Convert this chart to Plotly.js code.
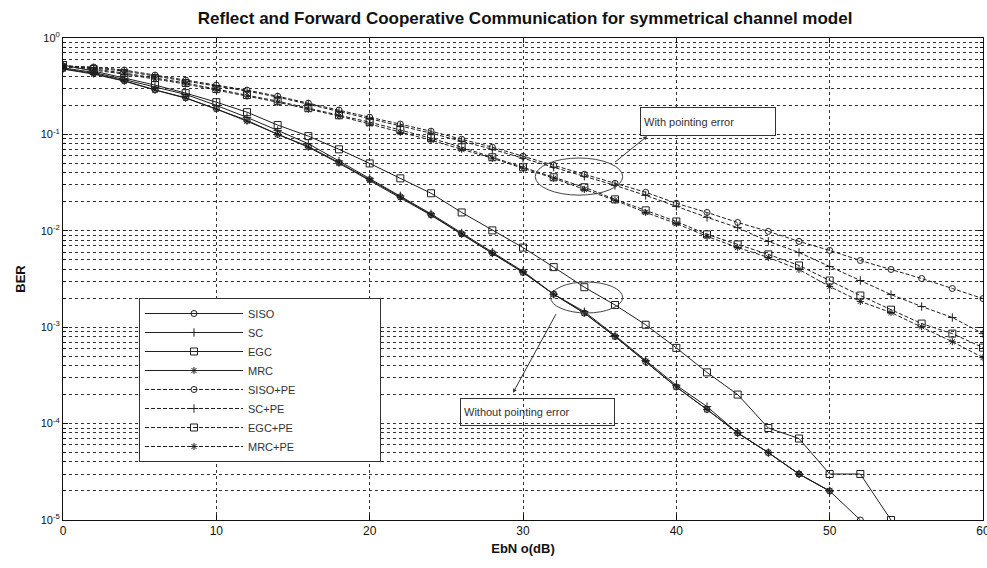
<!DOCTYPE html>
<html>
<head>
<meta charset="utf-8">
<script src="https://cdn.plot.ly/plotly-3.0.1.min.js"></script>
<style>html,body{margin:0;padding:0;background:#fff;}#chart{width:987px;height:568px;}</style>
</head>
<body>
<div id="chart"></div>
<script>
const ebno = [0,2,4,6,8,10,12,14,16,18,20,22,24,26,28,30,32,34,36,38,40,42,44,46,48,50,52,54,56,58,60];

const siso = [0.48,0.43,0.36,0.29,0.24,0.185,0.14,0.10,0.075,0.051,0.034,0.0225,0.0147,0.0093,0.0059,0.0037,0.0022,0.0014,0.0008,0.00044,0.00024,0.00014,8e-5,5e-5,3e-5,2e-5,1e-5];
const sc = [0.49,0.44,0.37,0.31,0.26,0.20,0.15,0.11,0.08,0.053,0.035,0.023,0.015,0.0095,0.006,0.0038,0.0022,0.00145,0.00082,0.00045,0.00025,0.00015,8e-5,5e-5,3e-5,2e-5];
const egc = [0.524,0.454,0.384,0.325,0.268,0.216,0.170,0.125,0.096,0.070,0.050,0.035,0.0245,0.0155,0.0101,0.0067,0.0042,0.0026,0.0017,0.00106,0.00061,0.00034,0.0002,9e-5,7e-5,3e-5,3e-5,1e-5];
const mrc = [0.476,0.422,0.357,0.288,0.238,0.183,0.137,0.100,0.0736,0.0502,0.0334,0.0222,0.0145,0.0092,0.0058,0.0037,0.0022,0.0014,0.0008,0.00044,0.00024,0.00014,8e-5,5e-5,3e-5,2e-5];

const sisoPE = [0.512,0.500,0.465,0.412,0.366,0.325,0.288,0.249,0.211,0.179,0.151,0.128,0.108,0.0891,0.0736,0.0593,0.0479,0.0386,0.0311,0.0251,0.0193,0.0155,0.0122,0.00986,0.00776,0.00626,0.00492,0.00397,0.0032,0.00252,0.00198];
const scPE = [0.512,0.488,0.454,0.403,0.357,0.317,0.281,0.244,0.206,0.174,0.147,0.122,0.103,0.0849,0.0701,0.0566,0.0456,0.0368,0.0296,0.0233,0.0179,0.0138,0.0108,0.00776,0.00596,0.00426,0.00305,0.00218,0.00164,0.00126,0.000858];
const egcPE = [0.524,0.476,0.433,0.384,0.341,0.295,0.256,0.221,0.187,0.158,0.134,0.111,0.0913,0.0736,0.0579,0.0456,0.0359,0.0283,0.0212,0.0163,0.0125,0.00918,0.00722,0.00569,0.00437,0.00305,0.00213,0.00152,0.00109,0.000858,0.000614];
const mrcPE = [0.512,0.465,0.422,0.375,0.333,0.288,0.249,0.216,0.183,0.155,0.128,0.105,0.0871,0.0701,0.0566,0.0445,0.0351,0.0269,0.0207,0.0155,0.0119,0.00875,0.00671,0.00529,0.00397,0.00264,0.00185,0.00142,0.00101,0.000708,0.000483];

const seriesNames = ['SISO','SC','EGC','MRC','SISO+PE','SC+PE','EGC+PE','MRC+PE'];
const xTicks = [0,10,20,30,40,50,60];
const yTickVals = [1,0.1,0.01,0.001,0.0001,0.00001];
const yTickText = ['10<sup>0</sup>','10<sup>-1</sup>','10<sup>-2</sup>','10<sup>-3</sup>','10<sup>-4</sup>','10<sup>-5</sup>'];

const allY = [siso, sc, egc, mrc, sisoPE, scPE, egcPE, mrcPE];
const symbols = ['circle-open','cross-thin-open','square-open','asterisk-open','circle-open','cross-thin-open','square-open','asterisk-open'];
const lineCol = '#1e1e1e';
const pad = '\u00a0'.repeat(26);

const traces = allY.map((yy, i) => ({
  x: ebno.slice(0, yy.length),
  y: yy,
  name: seriesNames[i] + pad,
  type: 'scatter',
  mode: 'lines+markers',
  line: {color: lineCol, width: 1, dash: i < 4 ? 'solid' : '4px,2px'},
  marker: {symbol: symbols[i], size: i % 4 === 2 ? 7 : 6, color: lineCol, line: {color: lineCol, width: 1}}
}));

// minor grid positions on the log axis (2..9 per decade)
const minorVals = [];
for (let e = -5; e < 0; e++) for (let k = 2; k <= 9; k++) minorVals.push(k * Math.pow(10, e));

const gridCol = '#333';
const layout = {
  width: 987, height: 568,
  paper_bgcolor: '#fff', plot_bgcolor: '#fff',
  margin: {l: 63, r: 4, t: 38, b: 48},
  font: {family: 'Liberation Sans, Arial, sans-serif', color: '#111', size: 12},
  title: {text: '<b>Reflect and Forward Cooperative Communication for symmetrical channel model</b>',
          font: {size: 17, family: 'Liberation Sans, Arial, sans-serif', color: '#111'},
          x: 0.532, xanchor: 'center', y: 0.968, yanchor: 'middle'},
  showlegend: true,
  legend: {x: 0.0826, y: 0.4606, xanchor: 'left', yanchor: 'top', bgcolor: '#fff',
           bordercolor: '#333', borderwidth: 1, font: {size: 11, color: '#333'},
           itemwidth: 98, tracegroupgap: 0},
  xaxis: {range: [0, 60], tickvals: xTicks, ticks: 'inside', ticklen: 5, tickcolor: '#111',
          showline: true, linecolor: '#111', linewidth: 1, mirror: 'ticks',
          showgrid: true, gridcolor: gridCol, griddash: '3px,3px', gridwidth: 1, zeroline: false,
          tickfont: {size: 12}, ticklabeloverflow: 'allow',
          title: {text: '<b>EbN o(dB)</b>', font: {size: 13}, standoff: 6}},
  yaxis: {type: 'log', range: [-5, 0], tickvals: yTickVals, ticktext: yTickText,
          ticks: 'inside', ticklen: 5, tickcolor: '#111',
          showline: true, linecolor: '#111', linewidth: 1, mirror: 'ticks',
          showgrid: true, gridcolor: gridCol, griddash: '3px,3px', gridwidth: 1, zeroline: false,
          tickfont: {size: 11},
          minor: {tickmode: 'array', tickvals: minorVals, showgrid: true, gridcolor: gridCol,
                  griddash: '3px,3px', gridwidth: 1, ticks: 'inside', ticklen: 3, tickcolor: '#111'},
          title: {text: '<b>BER</b>', font: {size: 13}, standoff: 12}},
  shapes: [
    {type: 'circle', xref: 'x', yref: 'paper', x0: 30.8, x1: 36.5, y0: 0.674, y1: 0.751,
     line: {color: '#444', width: 1}},
    {type: 'circle', xref: 'x', yref: 'paper', x0: 31.8, x1: 36.5, y0: 0.4295, y1: 0.4938,
     line: {color: '#444', width: 1}}
  ],
  annotations: [
    {text: 'With pointing error', xref: 'x', yref: 'y', x: 42.05, y: -0.863, showarrow: false,
     font: {size: 11, color: '#333'}, bgcolor: '#fff', bordercolor: '#333', borderwidth: 1,
     width: 128, height: 21, align: 'left', borderpad: 3},
    {text: '', xref: 'x', yref: 'y', x: 38.1, y: -1.018, axref: 'x', ayref: 'y', ax: 35.9, ay: -1.30,
     showarrow: true, arrowhead: 2, arrowsize: 0.8, arrowwidth: 1, arrowcolor: '#333'},
    {text: 'Without pointing error', xref: 'x', yref: 'y', x: 30.95, y: -3.877, showarrow: false,
     font: {size: 11, color: '#333'}, bgcolor: 'rgba(255,255,255,0)', bordercolor: '#333', borderwidth: 1,
     width: 147, height: 20, align: 'left', borderpad: 3},
    {text: '', xref: 'x', yref: 'y', x: 29.35, y: -3.68, axref: 'x', ayref: 'y', ax: 32.2, ay: -2.85,
     showarrow: true, arrowhead: 2, arrowsize: 0.8, arrowwidth: 1, arrowcolor: '#333'}
  ]
};

Plotly.newPlot('chart', traces, layout, {displayModeBar: false, staticPlot: true});
</script>
</body>
</html>
